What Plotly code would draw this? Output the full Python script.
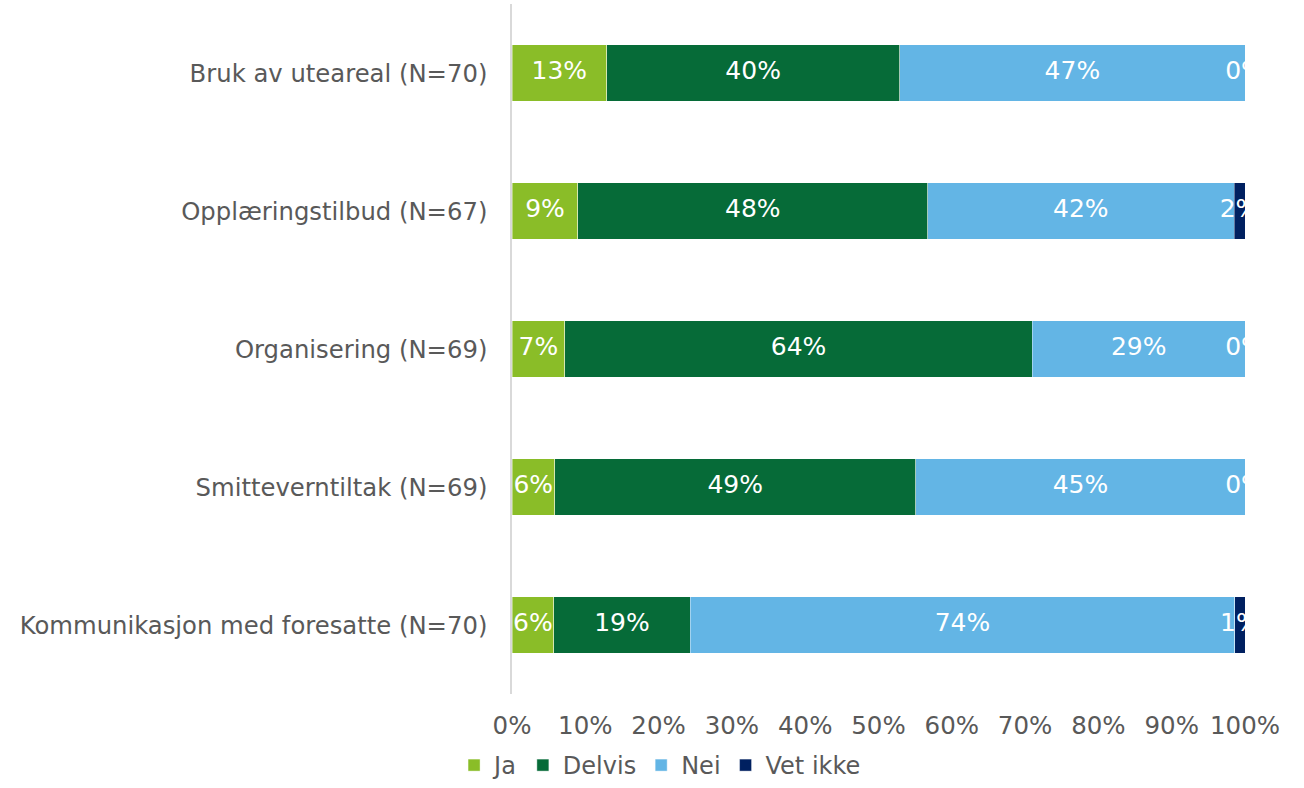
import plotly.graph_objects as go

categories = [
    "Bruk av uteareal (N=70)",
    "Opplæringstilbud (N=67)",
    "Organisering (N=69)",
    "Smitteverntiltak (N=69)",
    "Kommunikasjon med foresatte (N=70)",
]
series_names = ["Ja", "Delvis", "Nei", "Vet ikke"]
ja = [12.9, 9.0, 7.2, 5.8, 5.7]
delvis = [40.0, 47.7, 63.8, 49.3, 18.6]
nei = [47.1, 41.8, 29.0, 44.9, 74.3]
vet_ikke = [0.0, 1.5, 0.0, 0.0, 1.4]
colors = ["#8ABD28", "#066B38", "#63B5E5", "#002060"]
x_ticks = [0, 10, 20, 30, 40, 50, 60, 70, 80, 90, 100]

series = [ja, delvis, nei, vet_ikke]
FONT = "Verdana, DejaVu Sans, sans-serif"
GRAY = "#595959"
W, H = 1304, 788
T, B_PLOT = 4, 694  # plot area top / bottom in px

fig = go.Figure()
for name, vals, col in zip(series_names, series, colors):
    fig.add_trace(go.Bar(
        y=categories, x=vals, name=name, orientation="h",
        marker=dict(color=col, line=dict(color="rgba(255,255,255,0.5)", width=0.8)),
        hoverinfo="skip",
    ))

# segment labels
starts = [0.0] * len(categories)
lx, ly, lt = [], [], []
for vals in series:
    for i, v in enumerate(vals):
        lx.append(starts[i] + v / 2)
        ly.append(categories[i])
        lt.append(f"{int(v + 0.5)}%")
        starts[i] += v
fig.add_trace(go.Scatter(
    x=lx, y=ly, text=lt, mode="text", textposition="middle center",
    textfont=dict(family=FONT, size=25, color="white"),
    showlegend=False, hoverinfo="skip", cliponaxis=True,
))

paper_h = H - T
fig.update_layout(
    barmode="stack",
    bargap=0.594,
    width=W, height=H,
    margin=dict(l=512, r=59, t=T, b=0, autoexpand=False),
    paper_bgcolor="white", plot_bgcolor="white",
    font=dict(family=FONT, size=24, color=GRAY),
    showlegend=True,
    legend=dict(
        orientation="h", x=0.202, xanchor="center",
        y=0.0, yanchor="bottom",
        font=dict(family=FONT, size=24, color=GRAY),
        traceorder="normal", itemwidth=30,
    ),
    xaxis=dict(
        range=[0, 100], tickvals=x_ticks,
        ticktext=[f"{t}%" for t in x_ticks],
        showgrid=False, zeroline=False, showline=False,
        ticks="", ticklabelstandoff=14, automargin=False,
        tickfont=dict(family=FONT, size=24.5, color=GRAY),
        fixedrange=True,
    ),
    yaxis=dict(
        domain=[(H - B_PLOT) / paper_h, 1],
        categoryorder="array", categoryarray=categories, autorange="reversed",
        showgrid=False, zeroline=False, showline=True, linecolor="#D9D9D9", linewidth=1.5,
        ticks="", ticklabelstandoff=18, automargin=False,
        tickfont=dict(family=FONT, size=24.3, color=GRAY),
        fixedrange=True,
    ),
)

fig.write_html("out.html", config={"displayModeBar": False},
               post_script="document.body.style.margin='0px';")
